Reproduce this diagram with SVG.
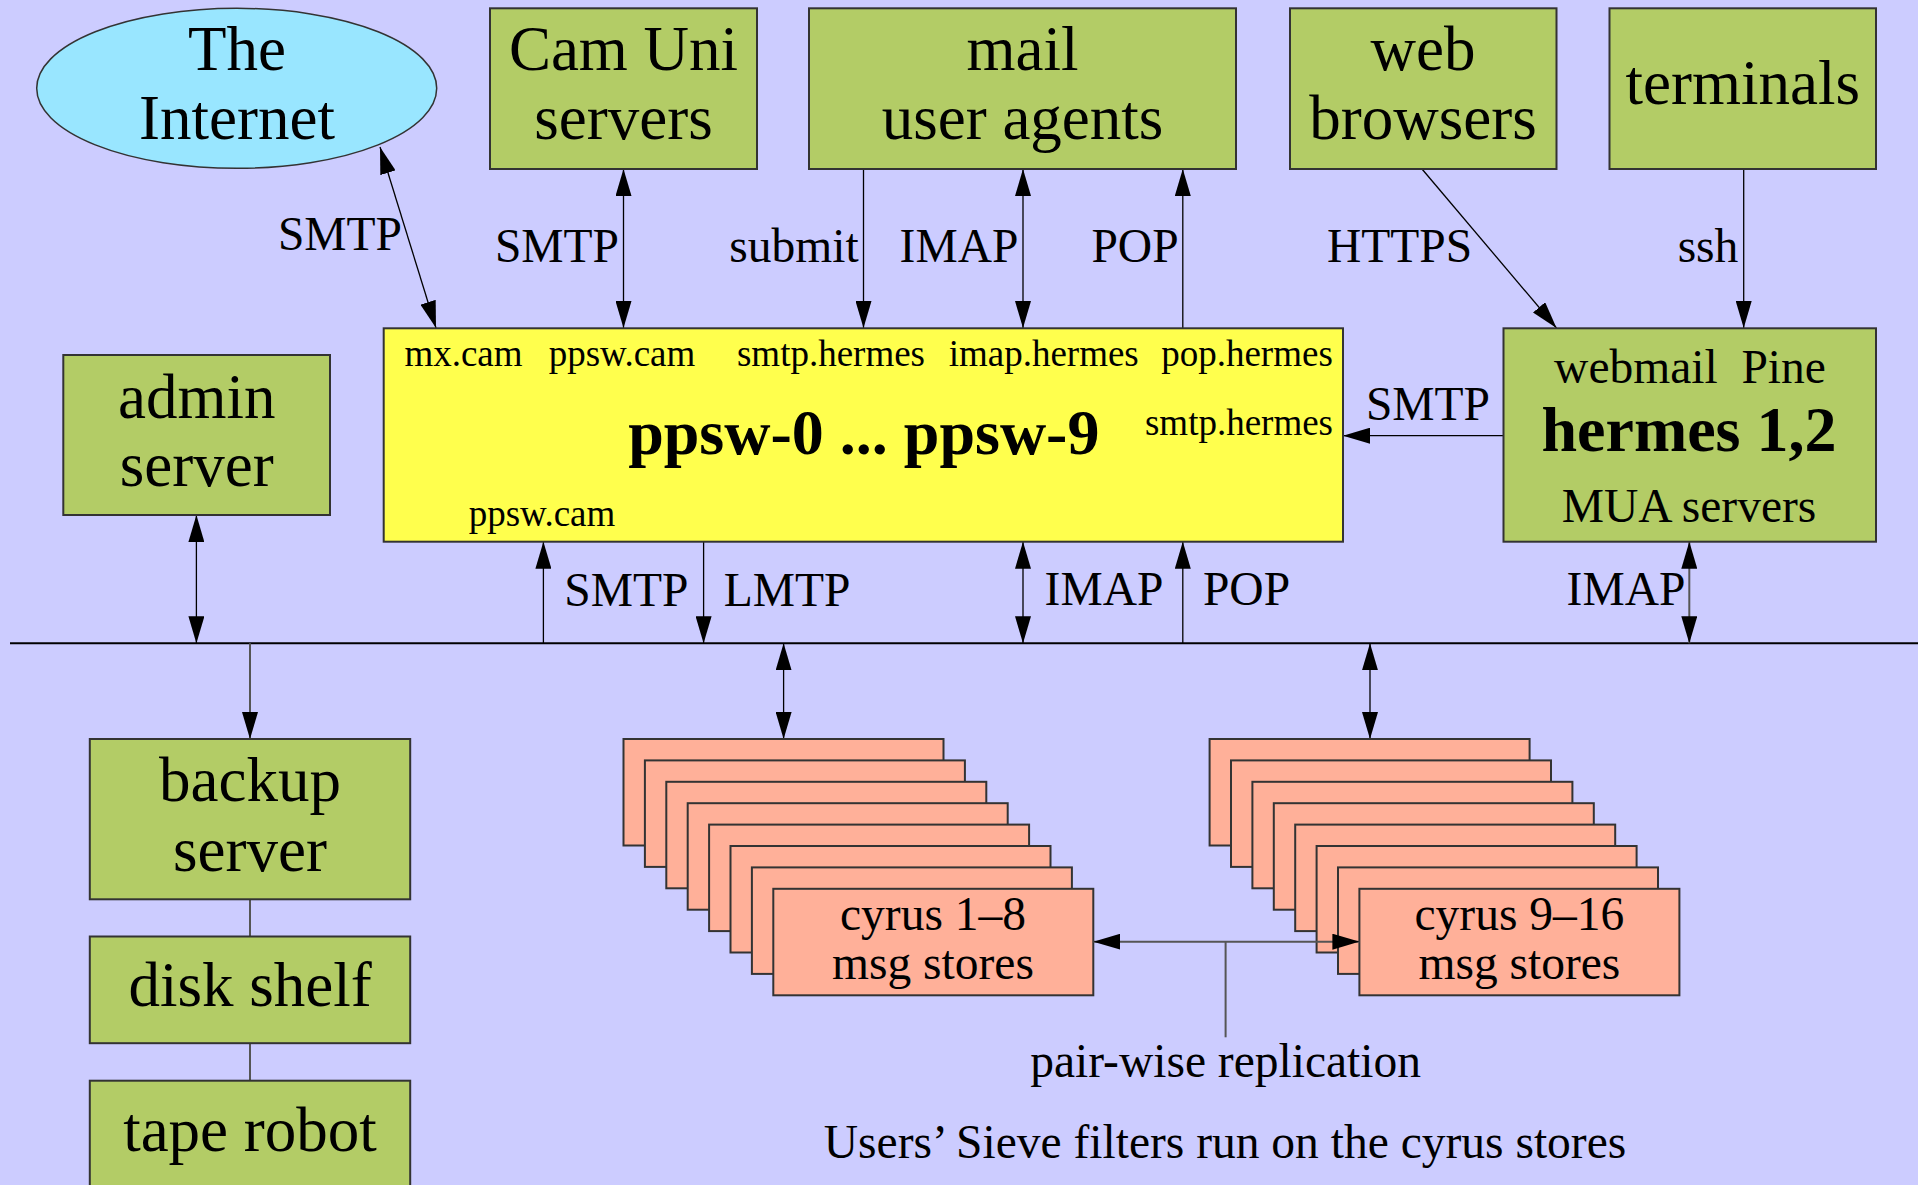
<svg xmlns="http://www.w3.org/2000/svg" width="1918" height="1185" viewBox="0 0 1918 1185">
<style>
text{font-family:"Liberation Serif","Times New Roman",serif;fill:#000;text-anchor:middle}
.big{font-size:63px}
.med{font-size:47.5px}
.sm{font-size:37px}
.bold{font-weight:bold;font-size:64px}
.green{fill:#b3cc66;stroke:#333;stroke-width:2}
.yellow{fill:#ffff4d;stroke:#333;stroke-width:2}
.cyan{fill:#99e6ff;stroke:#333;stroke-width:1.5}
.salmon{fill:#ffb099;stroke:#333;stroke-width:2}
.c{stroke:#000;stroke-width:1.3;fill:none}
.g{stroke:#555;stroke-width:2;fill:none}
.bus{stroke:#000;stroke-width:2;fill:none}
.e{marker-end:url(#ah)}
.s{marker-start:url(#ah)}
</style>
<defs>
<marker id="ah" markerUnits="userSpaceOnUse" markerWidth="27" markerHeight="16" refX="27" refY="8" orient="auto-start-reverse">
<path d="M0,0 L27,8 L0,16 z" fill="#000"/>
</marker>
</defs>
<rect x="0" y="0" width="1918" height="1185" fill="#ccccff"/>

<g id="connectors">
<line class="c s e" x1="380" y1="147" x2="436" y2="328"/>
<line class="c s e" x1="623.5" y1="169" x2="623.5" y2="328"/>
<line class="c e" x1="863.5" y1="169" x2="863.5" y2="328"/>
<line class="c s e" x1="1023" y1="169" x2="1023" y2="328"/>
<line class="c e" x1="1182.8" y1="328" x2="1182.8" y2="169"/>
<line class="c e" x1="1422" y1="169" x2="1556.5" y2="328"/>
<line class="c e" x1="1743.7" y1="169" x2="1743.7" y2="328"/>
<line class="c e" x1="1503.5" y1="435.7" x2="1343" y2="435.7"/>
<line class="bus" x1="10" y1="643.3" x2="1918" y2="643.3"/>
<line class="c s e" x1="196.4" y1="515" x2="196.4" y2="643.3"/>
<line class="c e" x1="543.4" y1="643.3" x2="543.4" y2="541.7"/>
<line class="c e" x1="703.6" y1="541.7" x2="703.6" y2="643.3"/>
<line class="c s e" x1="1023" y1="541.7" x2="1023" y2="643.3"/>
<line class="c e" x1="1182.8" y1="643.3" x2="1182.8" y2="541.7"/>
<line class="g s e" x1="1689.3" y1="541.7" x2="1689.3" y2="643.3"/>
<line class="g e" x1="250" y1="643.3" x2="250" y2="739"/>
<line class="g" x1="250" y1="899.3" x2="250" y2="936.5"/>
<line class="g" x1="250" y1="1043.2" x2="250" y2="1080.7"/>
<line class="c s e" x1="783.6" y1="643.3" x2="783.6" y2="739"/>
<line class="c s e" x1="1370" y1="643.3" x2="1370" y2="739"/>
</g>

<g id="internet">
<ellipse class="cyan" cx="236.7" cy="88.3" rx="200" ry="80"/>
<text class="big" x="237" y="70">The</text>
<text class="big" x="237" y="139">Internet</text>
</g>
<g id="camuni">
<rect class="green" x="490" y="8.3" width="267" height="160.7"/>
<text class="big" x="623.5" y="70">Cam Uni</text>
<text class="big" x="623.5" y="139">servers</text>
</g>
<g id="mua">
<rect class="green" x="809" y="8.3" width="427" height="160.7"/>
<text class="big" x="1022.5" y="70">mail</text>
<text class="big" x="1022.5" y="139">user agents</text>
</g>
<g id="web">
<rect class="green" x="1290" y="8.3" width="266.5" height="160.7"/>
<text class="big" x="1423" y="70">web</text>
<text class="big" x="1423" y="139">browsers</text>
</g>
<g id="terminals">
<rect class="green" x="1609.5" y="8.3" width="266.5" height="160.7"/>
<text class="big" x="1742.7" y="104">terminals</text>
</g>

<g id="ppsw">
<rect class="yellow" x="383.7" y="328.3" width="959.3" height="213.4"/>
<text class="sm" x="463.5" y="366">mx.cam</text>
<text class="sm" x="622" y="366">ppsw.cam</text>
<text class="sm" x="831" y="366">smtp.hermes</text>
<text class="sm" x="1043.7" y="366">imap.hermes</text>
<text class="sm" x="1247" y="366">pop.hermes</text>
<text class="bold" x="863.8" y="454">ppsw-0 ... ppsw-9</text>
<text class="sm" x="1239" y="435">smtp.hermes</text>
<text class="sm" x="542" y="525.5">ppsw.cam</text>
</g>

<g id="hermes">
<rect class="green" x="1503.5" y="328.3" width="372.5" height="213.4"/>
<text class="med" x="1690" y="383" xml:space="preserve" style="white-space:pre">webmail  Pine</text>
<text class="bold" x="1689" y="451">hermes 1,2</text>
<text class="med" x="1689" y="521.5">MUA servers</text>
</g>

<g id="admin">
<rect class="green" x="63.3" y="355" width="266.7" height="160"/>
<text class="big" x="196.7" y="417.5">admin</text>
<text class="big" x="196.7" y="486">server</text>
</g>

<g id="backup">
<rect class="green" x="89.8" y="739" width="320.4" height="160.3"/>
<text class="big" x="250" y="801">backup</text>
<text class="big" x="250" y="870.5">server</text>
</g>
<g id="disk">
<rect class="green" x="89.8" y="936.5" width="320.4" height="106.7"/>
<text class="big" x="250" y="1006">disk shelf</text>
</g>
<g id="tape">
<rect class="green" x="89.8" y="1080.7" width="320.4" height="130"/>
<text class="big" x="250" y="1151">tape robot</text>
</g>

<g id="cyrus1-8">
<rect class="salmon" x="623.5" y="739" width="320" height="106.5"/>
<rect class="salmon" x="644.9" y="760.4" width="320" height="106.5"/>
<rect class="salmon" x="666.3" y="781.8" width="320" height="106.5"/>
<rect class="salmon" x="687.7" y="803.2" width="320" height="106.5"/>
<rect class="salmon" x="709.1" y="824.6" width="320" height="106.5"/>
<rect class="salmon" x="730.5" y="846" width="320" height="106.5"/>
<rect class="salmon" x="751.9" y="867.4" width="320" height="106.5"/>
<rect class="salmon" x="773.3" y="888.8" width="320" height="106.5"/>
<text class="med" x="933" y="930">cyrus 1–8</text>
<text class="med" x="933" y="978.5">msg stores</text>
</g>

<g id="cyrus9-16">
<rect class="salmon" x="1209.6" y="739" width="320" height="106.5"/>
<rect class="salmon" x="1231" y="760.4" width="320" height="106.5"/>
<rect class="salmon" x="1252.4" y="781.8" width="320" height="106.5"/>
<rect class="salmon" x="1273.8" y="803.2" width="320" height="106.5"/>
<rect class="salmon" x="1295.2" y="824.6" width="320" height="106.5"/>
<rect class="salmon" x="1316.6" y="846" width="320" height="106.5"/>
<rect class="salmon" x="1338" y="867.4" width="320" height="106.5"/>
<rect class="salmon" x="1359.4" y="888.8" width="320" height="106.5"/>
<text class="med" x="1519.4" y="930">cyrus 9–16</text>
<text class="med" x="1519.4" y="978.5">msg stores</text>
</g>

<g id="replication">
<line class="g s e" x1="1093.3" y1="941.7" x2="1359.4" y2="941.7"/>
<line class="g" x1="1225.6" y1="941.7" x2="1225.6" y2="1037.3"/>
</g>

<g id="labels">
<text class="med" x="340" y="249.5">SMTP</text>
<text class="med" x="557" y="261.5">SMTP</text>
<text class="med" x="794" y="261.5">submit</text>
<text class="med" x="959" y="261.5">IMAP</text>
<text class="med" x="1135" y="261.5">POP</text>
<text class="med" x="1399.5" y="261.5">HTTPS</text>
<text class="med" x="1708" y="261.5">ssh</text>
<text class="med" x="1428" y="419.5">SMTP</text>
<text class="med" x="626.3" y="606">SMTP</text>
<text class="med" x="787" y="606">LMTP</text>
<text class="med" x="1104" y="605">IMAP</text>
<text class="med" x="1246.5" y="605">POP</text>
<text class="med" x="1626" y="605">IMAP</text>
<text class="med" x="1225.6" y="1077">pair-wise replication</text>
<text class="med" x="1225" y="1157.5">Users’ Sieve filters run on the cyrus stores</text>
</g>
</svg>
